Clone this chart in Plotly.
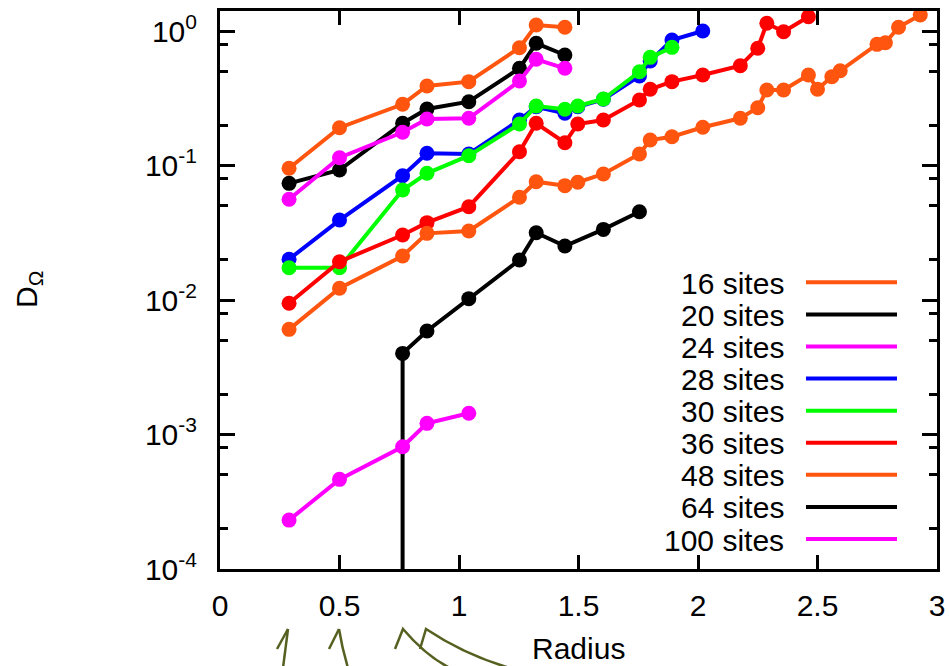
import plotly.graph_objects as go

# ---------------- data ----------------
r_all = [0.289, 0.5, 0.764, 0.866, 1.041, 1.253, 1.323, 1.443, 1.497, 1.604,
         1.755, 1.80, 1.891, 2.020, 2.177, 2.25, 2.288, 2.358, 2.462, 2.50,
         2.56, 2.595, 2.749, 2.784, 2.839, 2.93]

labels = ["16 sites", "20 sites", "24 sites", "28 sites", "30 sites",
          "36 sites", "48 sites", "64 sites", "100 sites"]

x16 = r_all[0:8]
y16 = [0.0953, 0.191, 0.285, 0.390, 0.420, 0.751, 1.108, 1.065]

x20 = r_all[0:8]
y20 = [0.0737, 0.0926, 0.206, 0.263, 0.298, 0.528, 0.810, 0.663]

x24 = r_all[0:8]
y24 = [0.0561, 0.1143, 0.1766, 0.2218, 0.2244, 0.425, 0.616, 0.528]

x28 = r_all[0:14]
y28 = [0.0201, 0.0393, 0.0840, 0.1233, 0.1218, 0.218, 0.2735, 0.2445,
       0.2735, 0.3106, 0.463, 0.598, 0.857, 1.0]

x30 = r_all[0:13]
y30 = [0.01738, 0.01738, 0.0657, 0.0875, 0.1183, 0.2036, 0.277, 0.262,
       0.277, 0.312, 0.498, 0.637, 0.756]

x36 = r_all[0:19]
y36 = [0.00945, 0.01927, 0.0304, 0.0376, 0.0494, 0.1266, 0.206, 0.1478,
       0.2036, 0.218, 0.307, 0.3685, 0.420, 0.471, 0.552, 0.744, 1.141,
       0.988, 1.277]

x48 = r_all
y48 = [0.00605, 0.01222, 0.02123, 0.0313, 0.0326, 0.058, 0.0758, 0.0708,
       0.0750, 0.0865, 0.1218, 0.1547, 0.1637, 0.1923, 0.2244, 0.269, 0.364,
       0.364, 0.471, 0.3685, 0.457, 0.507, 0.796, 0.818, 1.065, 1.315]

x64 = [0.764, 0.764, 0.866, 1.041, 1.253, 1.323, 1.443, 1.604, 1.755]
y64 = [1e-6, 0.00401, 0.00588, 0.01023, 0.01983, 0.0316, 0.0252, 0.0335, 0.0453]

x100 = r_all[0:5]
y100 = [0.000231, 0.000464, 0.000811, 0.00121, 0.00144]

x_ticks = [0, 0.5, 1, 1.5, 2, 2.5, 3]
x_ticktext = ["0", "0.5", "1", "1.5", "2", "2.5", "3"]
y_ticks = [1e-4, 1e-3, 1e-2, 1e-1, 1]
y_ticktext = ["10<sup>-4</sup>", "10<sup>-3</sup>", "10<sup>-2</sup>",
              "10<sup>-1</sup>", "10<sup>0</sup>"]
y_minor = [m * 10.0 ** e for e in range(-4, 0) for m in (2, 5, 8)]

# ---------------- styling ----------------
ORANGE = "rgb(255,85,15)"
colors = [ORANGE, "black", "magenta", "blue", "rgb(0,255,0)", "red",
          ORANGE, "black", "magenta"]
series = [(x16, y16), (x20, y20), (x24, y24), (x28, y28), (x30, y30),
          (x36, y36), (x48, y48), (x64, y64), (x100, y100)]

FONT = "Liberation Sans, Arial, sans-serif"
FS = 30
W, H = 949, 666
ML, MR, MT, MB = 220, 12, 11, 97
PW, PH = W - ML - MR, H - MT - MB


def px(x):
    return (x - ML) / PW


def py(y):
    return (H - MB - y) / PH


fig = go.Figure()
for (xs, ys), c, name in zip(series, colors, labels):
    fig.add_trace(go.Scatter(
        x=xs, y=ys, mode="lines+markers", name=name,
        line=dict(color=c, width=4),
        marker=dict(color=c, size=15),
        showlegend=False,
    ))

shapes = []
annotations = []

# custom legend (text left, line sample right)
for i, (name, c) in enumerate(zip(labels, colors)):
    yc = 282.3 + 32.09 * i
    annotations.append(dict(
        x=px(786), y=py(yc + 1), xref="paper", yref="paper",
        xanchor="right", yanchor="middle", text=name, showarrow=False,
        font=dict(family=FONT, size=FS, color="black")))
    shapes.append(dict(
        type="line", xref="paper", yref="paper",
        x0=px(806), x1=px(897), y0=py(yc), y1=py(yc),
        line=dict(color=c, width=4)))

# axis titles
annotations.append(dict(
    x=px(578.5), y=py(648), xref="paper", yref="paper",
    xanchor="center", yanchor="middle", text="Radius", showarrow=False,
    font=dict(family=FONT, size=FS, color="black")))
annotations.append(dict(
    x=px(28), y=py(290), xref="paper", yref="paper",
    xanchor="center", yanchor="middle", text="D<sub>Ω</sub>",
    textangle=-90, showarrow=False,
    font=dict(family=FONT, size=FS, color="black")))

# hand-drawn olive arrows below the x axis
OLIVE = "rgb(86,96,32)"


def path(pts):
    out = []
    for cmd, coords in pts:
        s = " ".join(f"{px(a):.5f},{py(b):.5f}" for a, b in coords)
        out.append(f"{cmd} {s}")
    return " ".join(out)


arrow_paths = [
    [("M", [(283, 668)]), ("L", [(288, 629)])],
    [("M", [(277, 649)]), ("L", [(288, 629), (297, 649)])],
    [("M", [(339, 629)]), ("Q", [(342, 648), (348, 668)])],
    [("M", [(329, 649)]), ("L", [(339, 629), (349, 649)])],
    [("M", [(395, 649)]), ("L", [(403, 629), (415, 645)]),
     ("Q", [(426, 656), (450, 668)])],
    [("M", [(420, 649)]), ("L", [(426, 629), (440, 643)]),
     ("Q", [(465, 655), (510, 668)])],
]
for p in arrow_paths:
    shapes.append(dict(type="path", xref="paper", yref="paper",
                       path=path(p), line=dict(color=OLIVE, width=2.5)))

fig.update_layout(
    width=W, height=H,
    margin=dict(l=ML, r=MR, t=MT, b=MB, autoexpand=False),
    paper_bgcolor="white", plot_bgcolor="white",
    font=dict(family=FONT, size=FS, color="black"),
    shapes=shapes, annotations=annotations,
)
fig.update_xaxes(
    range=[0, 3], tickvals=x_ticks, ticktext=x_ticktext,
    ticks="inside", ticklen=14, tickwidth=3, tickcolor="black",
    showline=True, linewidth=3, linecolor="black", mirror="allticks",
    showgrid=False, zeroline=False, ticklabelstandoff=8,
    tickfont=dict(family=FONT, size=FS, color="black"),
)
fig.update_yaxes(
    type="log", range=[-4, 0.1487], tickvals=y_ticks, ticktext=y_ticktext,
    ticks="inside", ticklen=15, tickwidth=3, tickcolor="black",
    showline=True, linewidth=3, linecolor="black", mirror="allticks",
    showgrid=False, zeroline=False, ticklabelstandoff=14,
    tickfont=dict(family=FONT, size=FS, color="black"),
    minor=dict(tickvals=y_minor, ticks="inside", ticklen=8, tickwidth=3,
               tickcolor="black", showgrid=False),
)

fig.write_html("out.html")
